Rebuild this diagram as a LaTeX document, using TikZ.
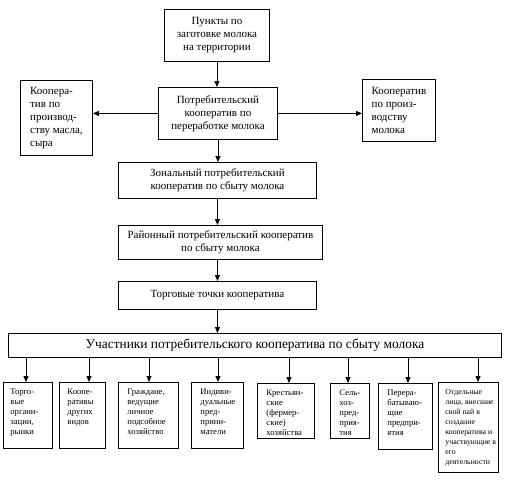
\documentclass[tikz,border=0pt]{standalone}
\usepackage{fontspec}
\setmainfont{Liberation Serif}
\usetikzlibrary{arrows.meta}
\newcommand\tbx[3]{\parbox[t][#2pt][t]{#1pt}{\begin{tabular}[t]{@{}l@{}}#3\end{tabular}}}
\tikzset{
  mbox/.style={draw, line width=0.9pt, anchor=north west, align=center, inner sep=2pt,
    font=\fontsize{11}{13}\selectfont},
  sbox/.style={mbox, align=left},
  bbox/.style={draw, line width=0.9pt, anchor=north west, inner xsep=8pt, inner ysep=5pt,
    font=\fontsize{8.6}{10}\selectfont},
  arr/.style={line width=0.9pt, -{Triangle[length=6pt,width=5pt]}}
}
\begin{document}
\begin{tikzpicture}[x=1pt,y=-1pt]
\useasboundingbox (0,0) rectangle (520,482);
% top part
\node[mbox, minimum width=105pt, minimum height=52pt] (p1) at (164,9)
  {Пункты по\\заготовке молока\\на территории};
\node[mbox, minimum width=119pt, minimum height=52pt] (p2) at (158,87)
  {Потребительский\\кооператив по\\переработке молока};
\node[sbox, minimum width=72pt, minimum height=75pt] (lb) at (20,80)
  {Коопера-\\тив по\\производ-\\ству масла,\\сыра};
\node[sbox, minimum width=73pt, minimum height=62pt] (rb) at (362,79)
  {Кооператив\\по произ-\\водству\\молока};
\node[mbox, minimum width=198pt, minimum height=36pt] (zone) at (118,162)
  {Зональный потребительский\\кооператив по сбыту молока};
\node[mbox, minimum width=204pt, minimum height=34pt] (rayon) at (118,225)
  {Районный потребительский кооператив\\по сбыту молока};
\node[mbox, minimum width=198pt, minimum height=28pt] (torg) at (118,281)
  {Торговые точки кооператива};
\node[mbox, minimum width=493pt, minimum height=24pt, font=\fontsize{13.4}{15}\selectfont] (uch) at (8,333)
  {Участники потребительского кооператива по сбыту молока};
% bottom boxes
\node[bbox, inner xsep=7pt] (b1) at (3,382) {\tbx{35}{56}{Торго-\\вые\\органи-\\зации,\\рынки}};
\node[bbox] (b2) at (59,382) {\tbx{30}{56}{Коопе-\\ративы\\других\\видов}};
\node[bbox, inner xsep=9pt] (b3) at (118,382) {\tbx{42}{56}{Граждане,\\ведущие\\личное\\подсобное\\хозяйство}};
\node[bbox, inner xsep=9pt] (b4) at (191,382) {\tbx{34}{56}{Индиви-\\дуальные\\пред-\\прини-\\матели}};
\node[bbox, inner xsep=9pt] (b5) at (257,383) {\tbx{39}{45}{Крестьян-\\ские\\(фермер-\\ские)\\хозяйства}};
\node[bbox, inner xsep=9pt] (b6) at (330,383) {\tbx{21}{45}{Сель-\\хоз-\\пред-\\прия-\\тия}};
\node[bbox, inner xsep=9pt] (b7) at (378,383) {\tbx{36}{56}{Перера-\\батываю-\\щие\\предпри-\\ятия}};
\node[bbox, inner xsep=7pt, font=\fontsize{7.8}{10}\selectfont] (b8) at (438,382) {\tbx{46}{80}{Отдельные\\лица, внесшие\\свой пай в\\создание\\кооператива и\\участвующие в\\его\\деятельности}};
% connectors
\draw[arr] (p1.south) -- (p1.south |- p2.north);
\draw[arr] (p2.west) -- (p2.west -| lb.east);
\draw[arr] (p2.east) -- (p2.east -| rb.west);
\draw[arr] (p2.south) -- (p2.south |- zone.north);
\draw[arr] (zone.south) -- (zone.south |- rayon.north);
\draw[arr] (zone.south |- rayon.south) -- (zone.south |- torg.north);
\draw[arr] (torg.south) -- (torg.south |- uch.north);
\coordinate (t1) at (26,0);
\coordinate (t2) at (89,0);
\coordinate (t3) at (149,0);
\coordinate (t4) at (218,0);
\coordinate (t5) at (289,0);
\coordinate (t6) at (348,0);
\coordinate (t7) at (408,0);
\coordinate (t8) at (478,0);
\foreach \i in {1,...,8}
  \draw[arr] (uch.south -| t\i) -- (b\i.north -| t\i);
\end{tikzpicture}
\end{document}
